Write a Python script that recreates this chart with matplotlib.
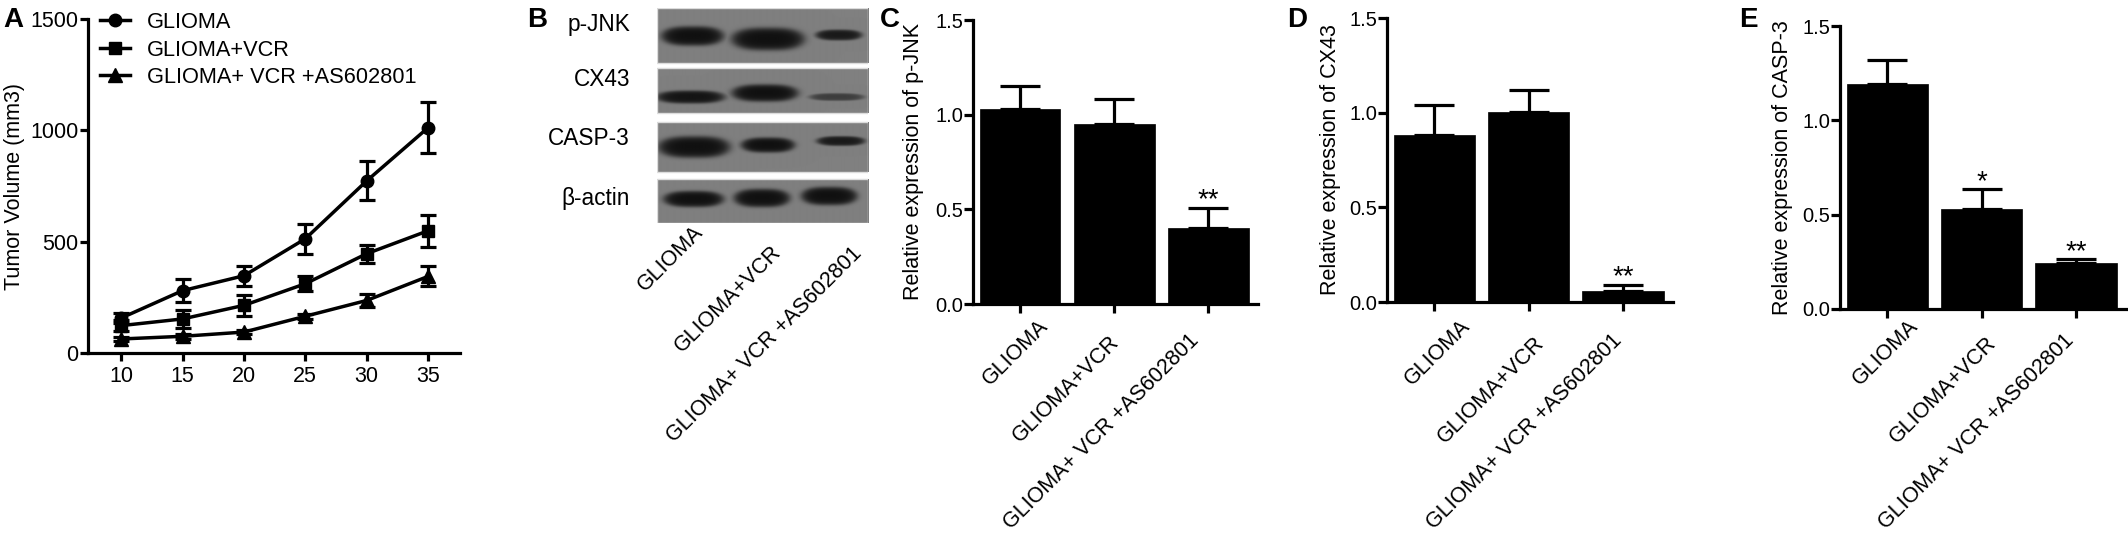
import numpy as np
import matplotlib
matplotlib.use('Agg')
import matplotlib.pyplot as plt
from matplotlib.lines import Line2D
from matplotlib.patches import Rectangle
from matplotlib.transforms import offset_copy

plt.rcParams['font.family'] = ['Liberation Sans', 'DejaVu Sans']

# ---------------- data ----------------
days = [10, 15, 20, 25, 30, 35]
glioma_vol = [157, 280, 347, 513, 773, 1012]
glioma_err = [22, 52, 45, 67, 88, 115]
vcr_vol = [123, 153, 214, 311, 446, 549]
vcr_err = [25, 40, 48, 33, 40, 72]
as_vol = [63, 75, 94, 165, 236, 344]
as_err = [8, 10, 10, 12, 28, 45]
series_labels = ['GLIOMA', 'GLIOMA+VCR', 'GLIOMA+ VCR +AS602801']
yticksA = [0, 500, 1000, 1500]

groups = ['GLIOMA', 'GLIOMA+VCR', 'GLIOMA+ VCR +AS602801']
pjnk_mean = [1.032, 0.951, 0.403]
pjnk_sem = [0.119, 0.134, 0.106]
cx43_mean = [0.882, 1.002, 0.056]
cx43_sem = [0.159, 0.119, 0.036]
casp3_mean = [1.191, 0.528, 0.245]
casp3_sem = [0.131, 0.106, 0.018]
pjnk_sig = ['', '', '**']
cx43_sig = ['', '', '**']
casp3_sig = ['', '*', '**']
yticks_bar = [0.0, 0.5, 1.0, 1.5]

blot_proteins = ['p-JNK', 'CX43', 'CASP-3', 'β-actin']
# band geometry (blot pixels) and darkness, protein x lane
band_cx = [[35.5, 110.5, 181], [33.5, 107.5, 179], [37, 110.5, 183], [36.5, 104.5, 171.5]]
band_cy = [[28, 31, 27], [89, 85, 89], [139, 137, 133], [191, 190, 188]]
band_hw = [[29.5, 34.5, 22], [32.5, 31.5, 26], [34, 25.5, 23], [28.5, 26.5, 26.5]]
band_hh = [[9, 10.5, 5], [6, 8, 3.5], [10, 7, 4.5], [7.5, 8.5, 8.5]]
band_int = [[1.0, 1.0, 0.92], [0.97, 1.0, 0.6], [1.0, 1.0, 0.92], [1.0, 1.0, 1.0]]

# ---------------- figure ----------------
W, H = 2128, 539
fig = plt.figure(figsize=(W / 100, H / 100), dpi=100)
fig.patch.set_facecolor('white')


def rect(left, top, right, bottom):
    return [left / W, 1 - bottom / H, (right - left) / W, (bottom - top) / H]


LW = 2.3

# ---------------- Panel A ----------------
axA = fig.add_axes(rect(88, 19, 460, 353))
markers = ['o', 's', '^']
msizes = [9, 8.5, 9.5]
for vals, errs, m, ms in zip([glioma_vol, vcr_vol, as_vol],
                             [glioma_err, vcr_err, as_err], markers, msizes):
    axA.errorbar(days, vals, yerr=errs, color='black', marker=m, ms=ms,
                 lw=2.5, elinewidth=2.3, capsize=5.6, capthick=2.3, clip_on=False)
axA.set_xlim(7.3, 37.6)
axA.set_ylim(0, 1500)
axA.set_xticks(days)
axA.set_yticks(yticksA)
axA.set_yticklabels([str(v) for v in yticksA])
for s in ['top', 'right']:
    axA.spines[s].set_visible(False)
for s in ['left', 'bottom']:
    axA.spines[s].set_linewidth(LW)
axA.tick_params(axis='both', direction='out', length=6, width=LW, labelsize=15.5)
axA.tick_params(axis='y', pad=1)
axA.tick_params(axis='x', pad=3)
axA.set_ylabel('Tumor Volume (mm3)', fontsize=15.5)
axA.yaxis.set_label_coords(-0.169, 0.5)
handles = [Line2D([], [], color='black', marker=m, ms=ms, lw=2.5)
           for m, ms in zip(markers, msizes)]
axA.legend(handles, series_labels, loc='upper left',
           bbox_to_anchor=(100 / W, 1 - 12 / H), bbox_transform=fig.transFigure,
           frameon=False, fontsize=15.7, handlelength=1.38, handletextpad=0.78,
           labelspacing=0.3, borderpad=0, borderaxespad=0)

# ---------------- Panel B (western blot) ----------------
Wb, Hb = 211, 215
strips = [(0, 55), (60, 105), (114, 164), (171, 215)]
bg = 0.50
yy, xx = np.mgrid[0:Hb, 0:Wb] + 0.5
img = np.ones((Hb, Wb))
for (y0, y1) in strips:
    img[y0:y1, :] = bg
for p, (y0, y1) in enumerate(strips):
    dark = np.zeros((Hb, Wb))
    for l in range(3):
        u = np.abs((xx - band_cx[p][l]) / band_hw[p][l])
        v = np.abs((yy - band_cy[p][l]) / band_hh[p][l])
        s = u ** 3 + v ** 2
        prof = 1.0 / (1.0 + np.exp((s - 1.0) / 0.3))
        dark = np.maximum(dark, band_int[p][l] * prof)
    mask = (yy >= y0) & (yy < y1)
    img = np.where(mask, img - (bg - 0.05) * dark, img)

axB = fig.add_axes(rect(657, 8, 868, 223))
axB.imshow(img, cmap='gray', vmin=0, vmax=1, extent=(0, Wb, Hb, 0),
           interpolation='bilinear', aspect='auto')
for (y0, y1) in strips:
    axB.add_patch(Rectangle((0.3, y0 + 0.3), Wb - 0.6, y1 - y0 - 0.6, fill=False,
                            edgecolor='#dcdcdc', lw=1.0))
axB.set_xlim(0, Wb)
axB.set_ylim(Hb, 0)
axB.axis('off')
label_base = [23, 78, 137, 197]
for name, yb in zip(blot_proteins, label_base):
    axB.text(-27, yb, name, ha='right', va='baseline', fontsize=16.3, clip_on=False)
lane_x = [35, 110, 181]
b_dx = [1, 4, 13]
b_dy = [-1, 19, 20]
for i, g in enumerate(groups):
    tr = offset_copy(axB.transData, fig=fig, x=b_dx[i], y=-b_dy[i], units='dots')
    axB.text(lane_x[i], Hb, g, transform=tr, rotation=45, rotation_mode='anchor',
             ha='right', va='top', fontsize=15.5, clip_on=False)


# ---------------- Bar panels ----------------
def bar_panel(r, means, sems, sig, ylabel, label_x, cat_dx, cat_dy):
    ax = fig.add_axes(r)
    x = np.arange(len(groups))
    ax.errorbar(x, means, yerr=[np.zeros(len(x)), sems], fmt='none', ecolor='black',
                elinewidth=LW, capsize=14.7, capthick=LW, zorder=1)
    ax.bar(x, means, width=0.86, color='black', edgecolor='black', lw=0.5, zorder=2)
    ax.set_xlim(-0.5, 2.53)
    ax.set_ylim(0, 1.5)
    ax.set_yticks(yticks_bar)
    ax.set_yticklabels(['%.1f' % v for v in yticks_bar])
    ax.set_xticks(x)
    ax.set_xticklabels(['' for _ in x])
    for s in ['top', 'right']:
        ax.spines[s].set_visible(False)
    for s in ['left', 'bottom']:
        ax.spines[s].set_linewidth(LW)
    ax.tick_params(axis='both', direction='out', length=6.5, width=LW, labelsize=14.5)
    ax.tick_params(axis='y', pad=0.5)
    ax.set_ylabel(ylabel, fontsize=15.5)
    ax.yaxis.set_label_coords(label_x, 0.5)
    for i, g in enumerate(groups):
        tr = offset_copy(ax.get_xaxis_transform(), fig=fig, x=cat_dx[i], y=-cat_dy[i],
                         units='dots')
        ax.text(i, 0, g, transform=tr, rotation=45, rotation_mode='anchor',
                ha='right', va='top', fontsize=15.5, clip_on=False)
    for i, st in enumerate(sig):
        if st:
            ax.annotate(st, xy=(i, means[i] + sems[i]), xytext=(0, 0),
                        textcoords='offset points', ha='center', va='baseline',
                        fontsize=20)
    return ax


bar_panel(rect(973, 20, 1258, 304), pjnk_mean, pjnk_sem, pjnk_sig,
          'Relative expression of p-JNK', -0.172, [18, -5, -20], [12, 28, 26])
bar_panel(rect(1387, 18, 1673, 302), cx43_mean, cx43_sem, cx43_sig,
          'Relative expression of CX43', -0.161, [25, 5, -12], [14, 31, 28])
bar_panel(rect(1840, 26, 2126, 309), casp3_mean, casp3_sem, casp3_sig,
          'Relative expression of CASP-3', -0.164, [20, 4, -13], [7, 24, 21])

# ---------------- panel letters ----------------
for letter, lx in zip(['A', 'B', 'C', 'D', 'E'], [3, 527, 880, 1287, 1739]):
    fig.text(lx / W, 1 - 7 / H, letter, ha='left', va='top', fontsize=20,
             fontweight='bold')

fig.savefig('out.png', dpi=100, facecolor='white')
